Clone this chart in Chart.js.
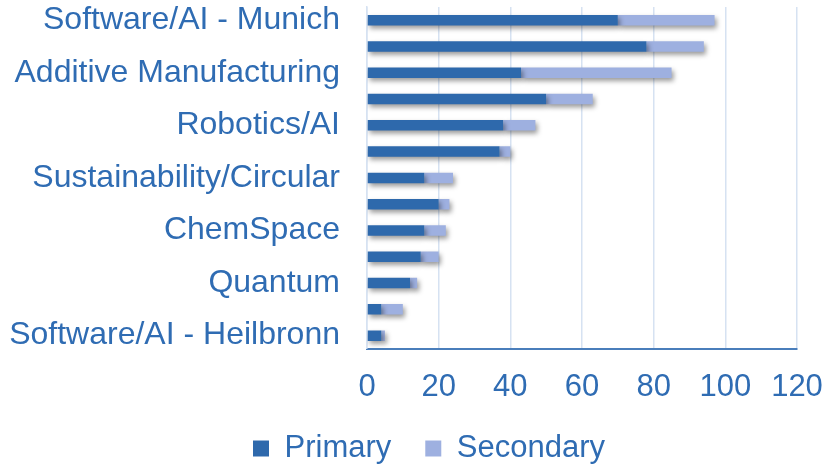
<!DOCTYPE html>
<html>
<head>
<meta charset="utf-8">
<script src="https://cdn.jsdelivr.net/npm/chart.js@4/dist/chart.umd.min.js"></script>
<style>
  html, body { margin: 0; padding: 0; background: #fff; }
  #wrap { width: 826px; height: 464px; }
</style>
</head>
<body>
<div id="wrap"><canvas id="chart" width="826" height="464"></canvas></div>
<script>
// categories (only every other name is printed in the original)
const categories = [
    'Software/AI - Munich', '', 'Additive Manufacturing', '', 'Robotics/AI', '',
    'Sustainability/Circular', '', 'ChemSpace', '', 'Quantum', '', 'Software/AI - Heilbronn'
];
const primary   = [70, 78, 43, 50, 38, 37, 16, 20, 16, 15, 12, 4, 4];
const secondary = [27, 16, 42, 13, 9, 3, 8, 3, 6, 5, 2, 6, 1];
const xTicks = [0, 20, 40, 60, 80, 100, 120];

const TEXT = '#2F6CB3';

// soft drop shadow under the bars
const barShadow = {
    id: 'barShadow',
    beforeDatasetsDraw(chart) {
        const ctx = chart.ctx;
        ctx.save();
        ctx.shadowColor = 'rgba(0,0,0,0.4)';
        ctx.shadowBlur = 5;
        ctx.shadowOffsetX = 2;
        ctx.shadowOffsetY = 3;
    },
    afterDatasetsDraw(chart) {
        chart.ctx.restore();
    }
};

new Chart(document.getElementById('chart'), {
    type: 'bar',
    data: {
        labels: categories,
        datasets: [
            { label: 'Primary', data: primary, backgroundColor: '#2E69AC', barPercentage: 0.4, categoryPercentage: 1 },
            { label: 'Secondary', data: secondary, backgroundColor: '#9EB0E0', barPercentage: 0.4, categoryPercentage: 1 }
        ]
    },
    options: {
        indexAxis: 'y',
        responsive: false,
        animation: false,
        layout: { padding: { top: 7, right: -32, left: 0, bottom: -10 } },
        scales: {
            x: {
                stacked: true,
                min: 0,
                max: 120,
                afterBuildTicks: scale => { scale.ticks = xTicks.map(v => ({ value: v })); },
                afterFit: scale => {
                    scale.paddingRight = 29;
                    scale.paddingLeft = 0;
                    scale.height -= 27;
                },
                ticks: {
                    color: TEXT,
                    font: { family: 'Liberation Sans, Arial', size: 31 },
                    padding: 20
                },
                grid: { color: '#D6E2F2', lineWidth: 1.5, drawTicks: false },
                border: { color: '#4A7EBB', width: 2 }
            },
            y: {
                stacked: true,
                afterFit: scale => {
                    scale.width = 367;
                    scale.paddingTop = 0;
                    scale.paddingBottom = 0;
                },
                ticks: {
                    autoSkip: false,
                    color: TEXT,
                    font: { family: 'Liberation Sans, Arial', size: 32 },
                    padding: 19
                },
                grid: { display: false },
                border: { color: '#D6E2F2', width: 1.5 }
            }
        },
        plugins: {
            legend: {
                position: 'bottom',
                labels: {
                    color: TEXT,
                    font: { family: 'Liberation Sans, Arial', size: 31 },
                    boxWidth: 16,
                    boxHeight: 16,
                    padding: 34
                }
            },
            tooltip: { enabled: false }
        }
    },
    plugins: [barShadow]
});
</script>
</body>
</html>
